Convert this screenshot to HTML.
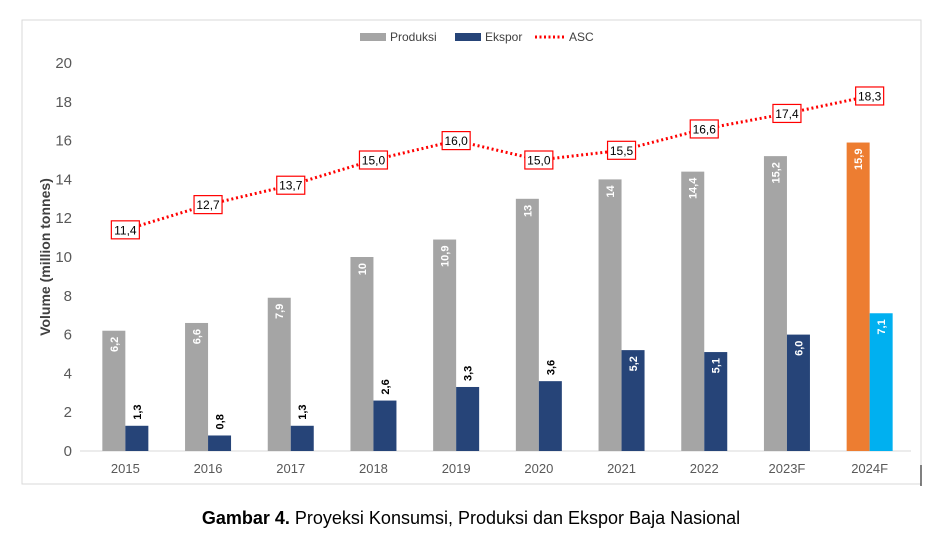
<!DOCTYPE html>
<html><head><meta charset="utf-8">
<style>
body{margin:0;background:#fff;width:942px;height:534px;overflow:hidden;font-family:"Liberation Sans",sans-serif;}
svg text{font-family:"Liberation Sans",sans-serif;}
</style></head>
<body>
<svg id="chart" width="942" height="534" xmlns="http://www.w3.org/2000/svg">
<rect x="22" y="20" width="899" height="464" fill="#fff" stroke="#d9d9d9" stroke-width="1"/>
<line x1="921" y1="465" x2="921" y2="486" stroke="#000" stroke-width="1"/>
<g id="grid"></g><g id="bars"></g><g id="line"></g><g id="labels"></g>
<g>
<rect x="360" y="33" width="26" height="8" fill="#a5a5a5"/>
<text x="390" y="41" font-size="12" fill="#404040">Produksi</text>
<rect x="455" y="33" width="26" height="8" fill="#264478"/>
<text x="485" y="41" font-size="12" fill="#404040">Ekspor</text>
<line x1="535" y1="37" x2="564" y2="37" stroke="#ff0000" stroke-width="3" stroke-dasharray="2,2.5"/>
<text x="569" y="41" font-size="12" fill="#404040">ASC</text>
</g>
<text transform="translate(50,257) rotate(-90)" text-anchor="middle" font-size="14" font-weight="bold" fill="#404040">Volume (million tonnes)</text>
<text x="471" y="524" text-anchor="middle" font-size="18" fill="#000"><tspan font-weight="bold">Gambar 4.</tspan> Proyeksi Konsumsi, Produksi dan Ekspor Baja Nasional</text>
</svg>
<script>
const categories=["2015","2016","2017","2018","2019","2020","2021","2022","2023F","2024F"];
const produksi=[6.2,6.6,7.9,10,10.9,13,14,14.4,15.2,15.9];
const produksiLabels=["6,2","6,6","7,9","10","10,9","13","14","14,4","15,2","15,9"];
const ekspor=[1.3,0.8,1.3,2.6,3.3,3.6,5.2,5.1,6.0,7.1];
const eksporLabels=["1,3","0,8","1,3","2,6","3,3","3,6","5,2","5,1","6,0","7,1"];
const asc=[11.4,12.7,13.7,15.0,16.0,15.0,15.5,16.6,17.4,18.3];
const ascLabels=["11,4","12,7","13,7","15,0","16,0","15,0","15,5","16,6","17,4","18,3"];
const yTicks=[0,2,4,6,8,10,12,14,16,18,20];

const NS="http://www.w3.org/2000/svg";
const x0=84,x1=911,y0=451,yTop=63;
const band=(x1-x0)/categories.length;
const xC=i=>x0+band*(i+0.5);
const yS=v=>y0-(v/20)*(y0-yTop);
function mk(tag,attrs,parent,text){const e=document.createElementNS(NS,tag);for(const k in attrs)e.setAttribute(k,attrs[k]);if(text!==undefined)e.textContent=text;document.getElementById(parent).appendChild(e);return e;}

yTicks.forEach(t=>{
  const e=mk('text',{x:72,y:yS(t)+5,'text-anchor':'end','font-size':15,fill:'#595959'},'grid',t);
  
  
});
const ax=mk('line',{x1:80,y1:y0,x2:x1,y2:y0,stroke:'#d9d9d9','stroke-width':1},'grid');



const bw=23;
categories.forEach((c,i)=>{
  const last=i===categories.length-1;
  const cx=xC(i);
  const lab=mk('text',{x:cx,y:y0+22,'text-anchor':'middle','font-size':13,fill:'#595959'},'grid',c);
  
  
  const p=mk('rect',{x:cx-bw,y:yS(produksi[i]),width:bw,height:y0-yS(produksi[i]),fill:last?'#ed7d31':'#a5a5a5'},'bars');
  
  
  const e=mk('rect',{x:cx,y:yS(ekspor[i]),width:bw,height:y0-yS(ekspor[i]),fill:last?'#00b0f0':'#264478'},'bars');
  
  
  const px=cx-bw/2+4, py=yS(produksi[i])+6;
  const pl=mk('text',{x:px,y:py,transform:`rotate(-90 ${px} ${py})`,'text-anchor':'end','font-size':11,'font-weight':'bold',fill:'#fff'},'labels',produksiLabels[i]);
  
  
  const inside=ekspor[i]>=5;
  const ex=cx+bw/2+4, ey=inside?yS(ekspor[i])+6:yS(ekspor[i])-6;
  const el=mk('text',{x:ex,y:ey,transform:`rotate(-90 ${ex} ${ey})`,'text-anchor':inside?'end':'start','font-size':11,'font-weight':'bold',fill:inside?'#fff':'#000'},'labels',eksporLabels[i]);
  
  
});
const pts=asc.map((v,i)=>xC(i)+','+yS(v)).join(' ');
const pl=mk('polyline',{points:pts,fill:'none',stroke:'#ff0000','stroke-width':3,'stroke-dasharray':'2,2.8'},'line');


asc.forEach((v,i)=>{
  const cx=xC(i),cy=yS(v);
  const r=mk('rect',{x:cx-14,y:cy-9,width:28,height:18,fill:'#fff',stroke:'#ff0000','stroke-width':1.2},'labels');
  
  
  const t=mk('text',{x:cx,y:cy+4.5,'text-anchor':'middle','font-size':12,fill:'#000'},'labels',ascLabels[i]);
  
  
});
</script>
</body></html>
